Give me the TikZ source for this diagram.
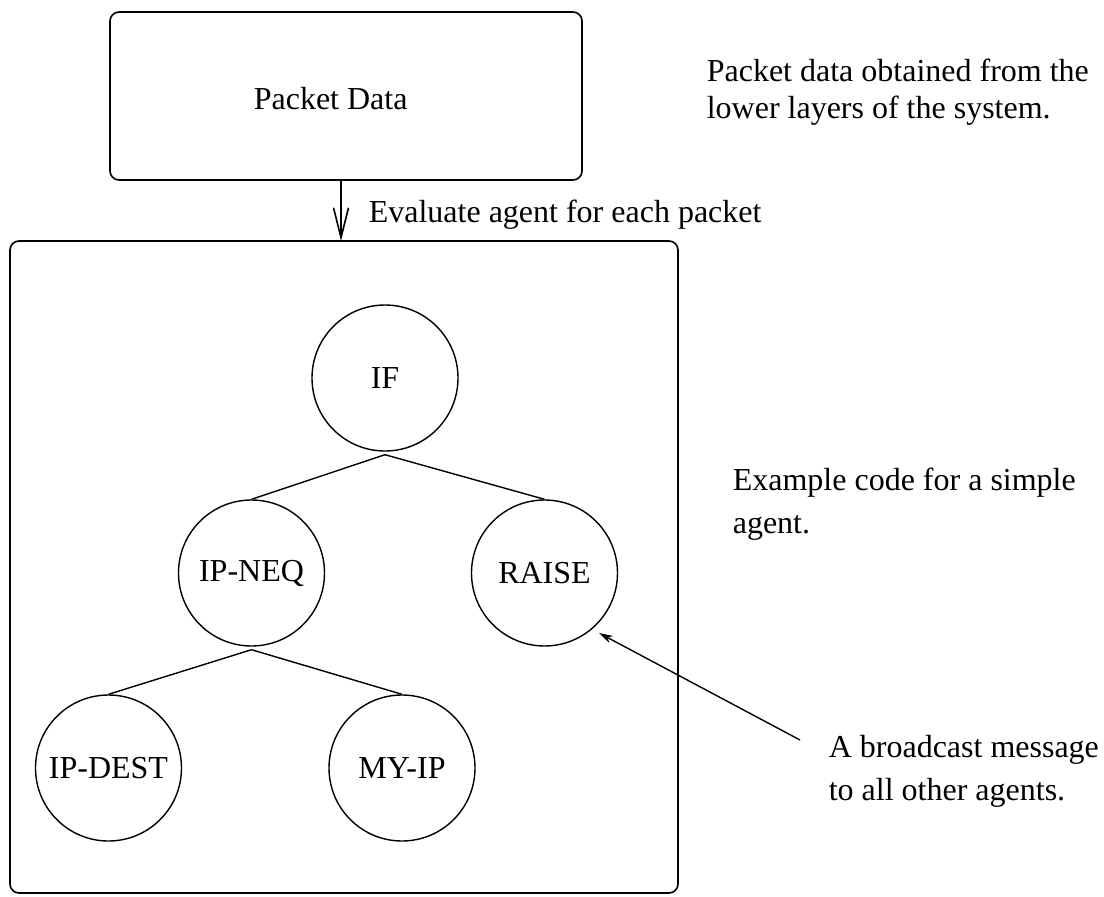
\documentclass[tikz,border=0pt]{standalone}
\usepackage{fontspec}
\setmainfont{Liberation Serif}
\usetikzlibrary{arrows.meta}
\begin{document}
\begin{tikzpicture}[x=1pt,y=-1pt,line width=1.6pt,
  every node/.style={font=\fontsize{32}{37}\selectfont},
  boxnode/.style={draw,rounded corners=9pt,inner sep=0pt},
  circ/.style={draw,circle,minimum size=146pt,inner sep=0pt,line width=1.4pt},
  txt/.style={anchor=base west,inner sep=0pt},
  edge/.style={line width=1.4pt}]
\useasboundingbox (0,0) rectangle (1104,897);
% top box
\node[boxnode,minimum width=472pt,minimum height=168pt] (pd) at (346,96) {};
\node[txt] (pdlabel) at (253,109) {Packet Data};
% big box
\node[boxnode,minimum width=668pt,minimum height=652pt] (agent) at (344,567) {};
% arrow between boxes
\coordinate (a1) at (341,180);
\coordinate (a2) at (341,241);
\draw[-{Straight Barb[length=30pt,width=15pt]}] (a1) -- (a2);
\node[txt] (eval) at (368,222) {Evaluate agent for each packet};
% tree
\node[circ] (IF) at (385,378) {IF};
\node[circ] (IPNEQ) at (251.5,573) {IP-NEQ};
\node[circ] (RAISE) at (544.5,573) {RAISE};
\node[circ] (IPDEST) at (108.5,768) {IP-DEST};
\node[circ] (MYIP) at (402,768) {MY-IP};
\draw[edge] ([yshift=-3pt]IF.south) -- (IPNEQ.north);
\draw[edge] ([yshift=-3pt]IF.south) -- (RAISE.north);
\draw[edge] ([yshift=-3pt]IPNEQ.south) -- (IPDEST.north);
\draw[edge] ([yshift=-3pt]IPNEQ.south) -- (MYIP.north);
% side notes
\node[txt] (n1a) at (706,81) {Packet data obtained from the};
\node[txt] (n1b) at (706,118) {lower layers of the system.};
\node[txt] (n2a) at (732,490) {Example code for a simple};
\node[txt] (n2b) at (732,533) {agent.};
\node[txt] (n3a) at (828,757) {A broadcast message};
\node[txt] (n3b) at (828,800) {to all other agents.};
% broadcast arrow
\coordinate (bctail) at (800,740);
\coordinate (bctip) at (599,633);
\draw[edge,-{Stealth[length=14pt,width=8pt]}] (bctail) -- (bctip);
\end{tikzpicture}
\end{document}
